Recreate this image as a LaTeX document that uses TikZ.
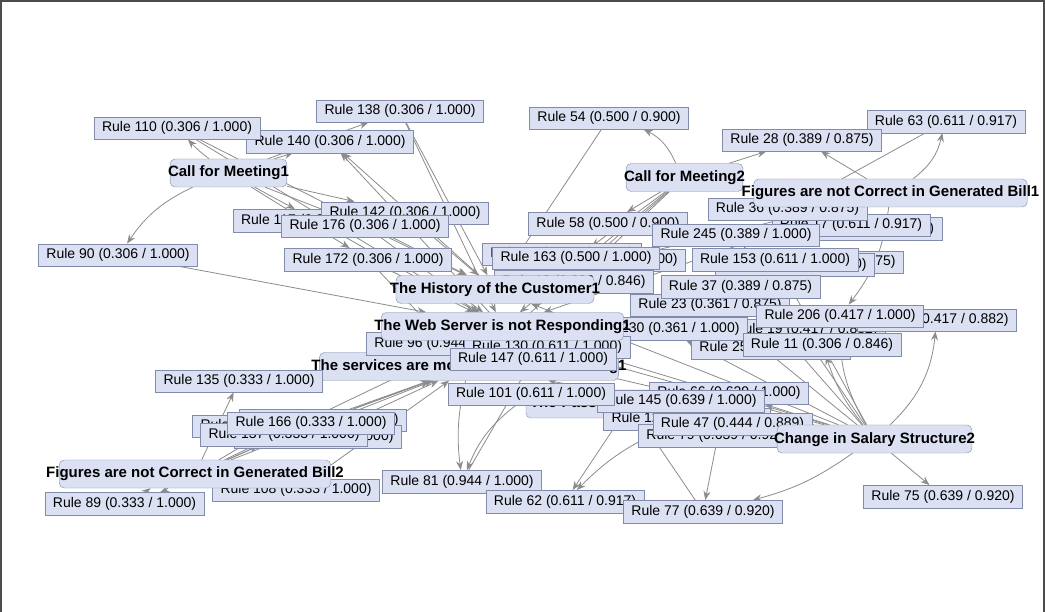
\documentclass[tikz,border=0pt]{standalone}
\usepackage{fontspec}
\setmainfont{Liberation Sans}
\usetikzlibrary{arrows.meta}
\definecolor{rulefill}{RGB}{219,225,242}
\definecolor{rulebd}{RGB}{130,140,170}
\definecolor{edgegray}{RGB}{140,140,140}
\pgfdeclarelayer{back}
\pgfsetlayers{back,main}
\begin{document}
\begin{tikzpicture}[x=1pt,y=-1pt,
  rul/.style={draw=rulebd,fill=rulefill,font=\fontsize{14}{16}\selectfont,inner xsep=8pt,inner ysep=4.5pt,text height=10.5pt,text depth=3pt},
  itm/.style={draw=rulebd,fill=rulefill,rounded corners=5pt,font=\fontsize{15}{17}\selectfont\bfseries,inner xsep=-2pt,inner ysep=7pt,text height=11pt,text depth=3pt},
  edge/.style={draw=edgegray,line width=0.8pt,->,>={Stealth[length=9pt,width=7pt,inset=3pt]}}]
  \useasboundingbox (0,0) rectangle (1045,612);

  \node[itm,inner xsep=-8pt] (serv) at (469,366.5) {The services are more slow in office timing1};
  \node[rul] (h12) at (562,254) {Rule 12 (0.500 / 1.000)};
  \node[rul] (h20) at (606,260) {Rule 20 (0.500 / 1.000)};
  \node[rul] (h846) at (574,281.5) {Rule 13 (0.306 / 0.846)};
  \node[rul] (r23) at (710,305) {Rule 23 (0.361 / 0.875)};
  \node[rul] (hR) at (806,330) {Rule 19 (0.417 / 0.882)};
  \node[rul] (r25) at (771,348) {Rule 25 (0.306 / 0.846)};
  \node[rul] (r230) at (664,328.5) {Rule 230 (0.361 / 1.000)};
  \node[rul] (r96) at (446,343.5) {Rule 96 (0.944 / 1.000)};
  \node[rul] (r130) at (547,347) {Rule 130 (0.611 / 1.000)};
  \node[itm,inner xsep=-6pt] (hist) at (495,289.5) {The History of the Customer1};
  \node[itm,inner xsep=-7pt] (web) at (502.5,326.5) {The Web Server is not Responding1};
  \node[rul] (r147) at (533,359) {Rule 147 (0.611 / 1.000)};

  \node[rul] (h117) at (316,220.5) {Rule 117 (0.306 / 1.000)};
  \node[rul] (h142) at (405,213) {Rule 142 (0.306 / 1.000)};
  \node[rul] (r176) at (365,226) {Rule 176 (0.306 / 1.000)};
  \node[rul] (r172) at (368,259.5) {Rule 172 (0.306 / 1.000)};
  \node[rul] (r140) at (330,141.5) {Rule 140 (0.306 / 1.000)};
  \node[rul] (r110) at (177,128) {Rule 110 (0.306 / 1.000)};
  \node[rul] (r138) at (400,111) {Rule 138 (0.306 / 1.000)};
  \node[rul] (r90) at (118,255) {Rule 90 (0.306 / 1.000)};
  \node[itm] (cm1) at (228.5,173) {Call for Meeting1};

  \node[rul] (r54) at (609,118) {Rule 54 (0.500 / 0.900)};
  \node[rul] (r63) at (946,121.5) {Rule 63 (0.611 / 0.917)};
  \node[rul] (r28) at (802,140) {Rule 28 (0.389 / 0.875)};
  \node[itm] (cm2) at (684.5,177.5) {Call for Meeting2};
  \node[rul] (r58) at (608,223.5) {Rule 58 (0.500 / 0.900)};
  \node[rul] (r163) at (576,258) {Rule 163 (0.500 / 1.000)};
  \node[rul] (hB) at (824,262) {Rule 31 (0.361 / 0.875)};
  \node[rul] (hA) at (795,264.5) {Rule 24 (0.389 / 1.000)};
  \node[rul] (h917b) at (863,228.5) {Rule 49 (0.611 / 0.920)};
  \node[rul] (h917) at (851,225) {Rule 17 (0.611 / 0.917)};
  \node[rul] (r36) at (787.5,209) {Rule 36 (0.389 / 0.875)};
  \node[rul] (r245) at (736,235) {Rule 245 (0.389 / 1.000)};
  \node[rul] (r153) at (775,259.5) {Rule 153 (0.611 / 1.000)};
  \node[rul] (r37) at (740.5,286.5) {Rule 37 (0.389 / 0.875)};
  \node[itm,inner xsep=-12pt] (fb1) at (890.5,193) {Figures are not Correct in Generated Bill1};
  \node[rul] (h882) at (937,320) {Rule 76 (0.417 / 0.882)};
  \node[rul] (r206) at (840,316) {Rule 206 (0.417 / 1.000)};
  \node[rul] (r11) at (822,344.5) {Rule 11 (0.306 / 0.846)};

  \node[itm,inner xsep=4pt,text width=200pt,align=left] (pass) at (630,404) {The Pass};
  \node[rul] (h1000) at (729,393) {Rule 66 (0.639 / 1.000)};
  \node[rul] (h1x) at (687,419) {Rule 129 (0.639 / 1.000)};
  \node[rul] (r79) at (718,435.5) {Rule 79 (0.639 / 0.920)};
  \node[rul] (r145) at (681,401) {Rule 145 (0.639 / 1.000)};
  \node[rul] (r101) at (531,394) {Rule 101 (0.611 / 1.000)};
  \node[rul] (r47) at (732.5,424) {Rule 47 (0.444 / 0.889)};
  \node[itm,inner xsep=-3pt] (sal) at (874.5,439) {Change in Salary Structure2};
  \node[rul] (r81) at (462,481.5) {Rule 81 (0.944 / 1.000)};
  \node[rul] (r62) at (565,501.5) {Rule 62 (0.611 / 0.917)};
  \node[rul] (r77) at (703,511.5) {Rule 77 (0.639 / 0.920)};
  \node[rul] (r75) at (943,496.5) {Rule 75 (0.639 / 0.920)};

  \node[rul] (r135) at (239,381) {Rule 135 (0.333 / 1.000)};
  \node[rul] (hL) at (276,426) {Rule 158 (0.333 / 1.000)};
  \node[rul] (h166b) at (323,420) {Rule 154 (0.333 / 1.000)};
  \node[rul] (h137b) at (318,436.5) {Rule 161 (0.333 / 1.000)};
  \node[rul] (r137) at (284,434.5) {Rule 137 (0.333 / 1.000)};
  \node[rul] (r166) at (311,423) {Rule 166 (0.333 / 1.000)};
  \node[rul] (r108) at (296,490) {Rule 108 (0.333 / 1.000)};
  \node[itm,inner xsep=-13pt] (fb2) at (195,474) {Figures are not Correct in Generated Bill2};
  \node[rul] (r89) at (124.5,503.5) {Rule 89 (0.333 / 1.000)};

  \begin{pgfonlayer}{back}
  \fill[white] (0,0) rectangle (1045,612);
  \draw[edge] (cm1) to[bend right=15] (r90);
  \draw[edge] (cm1) to[bend left=5] (r110);
  \draw[edge] (cm1) -- (r140);
  \draw[edge] (cm1) -- (r138);
  \draw[edge] (cm1) -- (h117);
  \draw[edge] (cm1) -- (r176);
  \draw[edge] (cm1) -- (h142);
  \draw[edge] (cm1) -- (r172);
  \draw[edge] (r110) -- (hist);
  \draw[edge] (r110) -- (web);
  \draw[edge] (r138) -- (hist);
  \draw[edge] (r138) -- (web);
  \draw[edge] (hist) -- (r140);
  \draw[edge] (web) -- (r140);
  \draw[edge] (r90) -- (web);
  \draw[edge] (r176) -- (hist);
  \draw[edge] (r176) -- (web);
  \draw[edge] (r172) -- (web);
  \draw[edge] (r172) -- (serv);
  \draw[edge] (h142) -- (hist);
  \draw[edge] (h117) -- (web);
  \draw[edge] (cm2) to[bend right=20] (r54);
  \draw[edge] (r54) -- (hist);
  \draw[edge] (cm2) -- (r58);
  \draw[edge] (cm2) -- (r163);
  \draw[edge] (cm2) -- (h846);
  \draw[edge] (cm2) -- (web);
  \draw[edge] (cm2) -- (serv);
  \draw[edge] (cm2) -- (r28);
  \draw[edge] (fb1) -- (r28);
  \draw[edge] (fb1) to[bend right=20] (r63);
  \draw[edge] (r63) -- (r36);
  \draw[edge] (fb1) to[bend left=15] (r206);
  \draw[edge] (fb1) -- (hist);
  \draw[edge] (fb1) -- (web);
  \draw[edge] (sal) -- (r75);
  \draw[edge] (sal) to[bend left=10] (r77);
  \draw[edge] (sal) to[bend right=20] (h882);
  \draw[edge] (sal) to[bend left=10] (r11);
  \draw[edge] (sal) to[bend left=15] (r206);
  \draw[edge] (sal) -- (hist);
  \draw[edge] (sal) -- (web);
  \draw[edge] (sal) -- (serv);
  \draw[edge] (sal) -- (r37);
  \draw[edge] (sal) -- (r153);
  \draw[edge] (sal) -- (r245);
  \draw[edge] (sal) -- (r23);
  \draw[edge] (sal) -- (r230);
  \draw[edge] (sal) -- (r145);
  \draw[edge] (sal) -- (h1000);
  \draw[edge] (sal) -- (r47);
  \draw[edge] (sal) -- (r147);
  \draw[edge] (sal) -- (r130);
  \draw[edge] (r101) to[bend right=15] (r81);
  \draw[edge] (r81) -- (r147);
  \draw[edge] (serv) to[bend right=10] (r81);
  \draw[edge] (pass) -- (r62);
  \draw[edge] (h1x) to[bend right=10] (r62);
  \draw[edge] (r77) -- (pass);
  \draw[edge] (r79) -- (r77);
  \draw[edge] (fb2) -- (r135);
  \draw[edge] (fb2) -- (serv);
  \draw[edge] (fb2) -- (web);
  \draw[edge] (fb2) -- (r166);
  \draw[edge] (fb2) -- (r137);
  \draw[edge] (fb2) -- (hL);
  \draw[edge] (r166) -- (serv);
  \draw[edge] (r137) -- (serv);
  \draw[edge] (h166b) -- (serv);
  \draw[edge] (h137b) -- (serv);
  \draw[edge] (r108) -- (serv);
  \draw[edge] (r135) -- (serv);
  \draw[edge] (fb2) to[bend left=5] (r89);
  \draw[edge] (r89) to[bend left=5] (fb2);
  \end{pgfonlayer}
  \draw[black!70,line width=1.5pt] (1,612) -- (1,1) -- (1044,1) -- (1044,612);
\end{tikzpicture}
\end{document}
